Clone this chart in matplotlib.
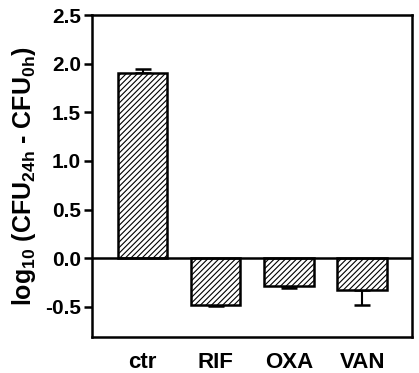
import numpy as np
import matplotlib
matplotlib.use("Agg")
import matplotlib.pyplot as plt

plt.rcParams['font.family'] = ['Liberation Sans', 'DejaVu Sans']
plt.rcParams['font.weight'] = 'bold'
plt.rcParams['mathtext.fontset'] = 'custom'
plt.rcParams['mathtext.rm'] = 'Liberation Sans:bold'
plt.rcParams['mathtext.default'] = 'rm'
plt.rcParams['hatch.linewidth'] = 0.8

# Daten
groups = ['ctr', 'RIF', 'OXA', 'VAN']
values = [1.90, -0.48, -0.29, -0.33]
errors = [0.04, 0.015, 0.015, 0.15]

fig = plt.figure(figsize=(4.19, 3.73), dpi=100)
ax = fig.add_axes([92 / 419, 1 - 337 / 373, 320 / 419, 322 / 373])

x = np.arange(len(groups))
# Fehlerbalken nur in Richtung des Balkens
yerr = np.array([[0 if v > 0 else e for v, e in zip(values, errors)],
                 [e if v > 0 else 0 for v, e in zip(values, errors)]])
ax.bar(x, values, width=0.675, color='white', edgecolor='black',
       linewidth=1.8, hatch='//////', zorder=2)
ax.errorbar(x, values, yerr=yerr, fmt='none', ecolor='black',
            elinewidth=1.5, capsize=6, capthick=1.8, zorder=1)
ax.axhline(0, color='black', linewidth=1.8, zorder=3)

ax.set_xlim(-0.69, 3.68)
ax.set_ylim(-0.81, 2.5)
ax.set_yticks([-0.5, 0.0, 0.5, 1.0, 1.5, 2.0, 2.5])
ax.set_yticklabels(['-0.5', '0.0', '0.5', '1.0', '1.5', '2.0', '2.5'])
ax.set_xticks(x)
ax.set_xticklabels(groups)
ax.tick_params(axis='y', direction='out', length=6, width=1.8, labelsize=15, pad=2)
ax.tick_params(axis='x', length=0, labelsize=16, pad=11)
for s in ax.spines.values():
    s.set_linewidth(1.8)

ax.set_ylabel(r'log$_{10}$ (CFU$_{24h}$ - CFU$_{0h}$)', fontsize=18,
              fontweight='bold', labelpad=5)

plt.savefig('out.png', dpi=100)
